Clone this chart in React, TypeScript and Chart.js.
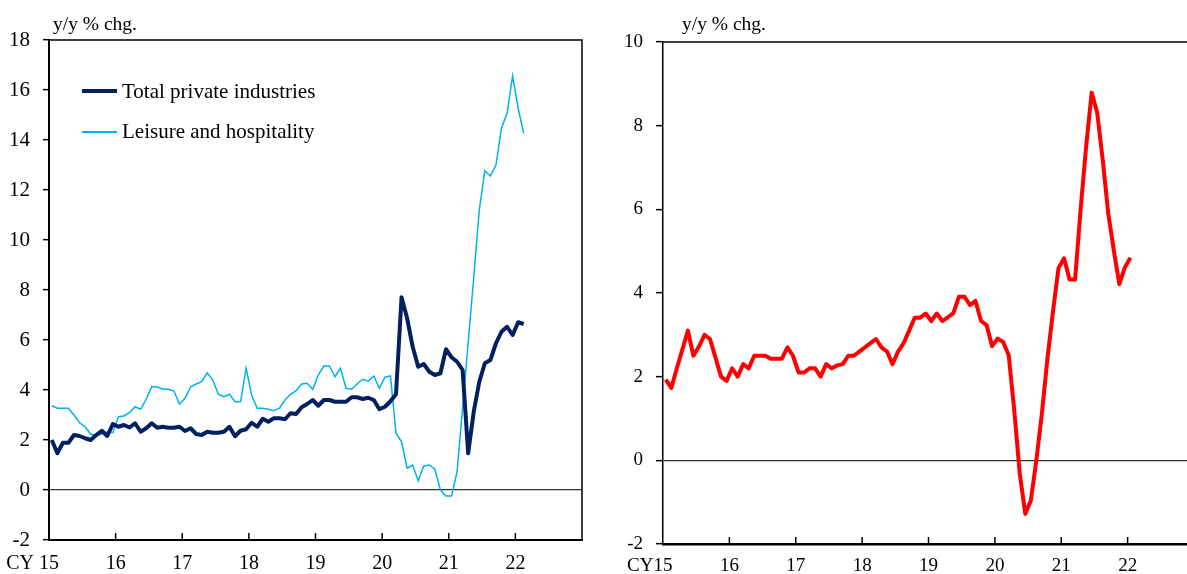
import { useEffect, useRef } from 'react';
import { Chart, registerables, ChartConfiguration, Plugin } from 'chart.js';

Chart.register(...registerables);

const FONT = '"Liberation Serif", "Times New Roman", serif';

// year tick labels (one tick per January, 12 months apart)
const yearLabels = ['15', '16', '17', '18', '19', '20', '21', '22'];

// left panel, monthly from Jan 2015, y/y % chg.
const totalPrivate = [
  2.0, 1.47, 1.89, 1.89, 2.2, 2.16, 2.07, 2.0, 2.2, 2.37, 2.16, 2.64,
  2.53, 2.6, 2.5, 2.67, 2.33, 2.47, 2.67, 2.49, 2.53, 2.49, 2.49, 2.53,
  2.36, 2.47, 2.24, 2.2, 2.33, 2.29, 2.29, 2.33, 2.53, 2.15, 2.37, 2.43,
  2.69, 2.53, 2.85, 2.73, 2.87, 2.87, 2.83, 3.07, 3.04, 3.31, 3.44, 3.6,
  3.37, 3.6, 3.6, 3.53, 3.53, 3.53, 3.71, 3.71, 3.64, 3.69, 3.6, 3.23,
  3.33, 3.55, 3.83, 7.71, 6.87, 5.73, 4.93, 5.04, 4.73, 4.6, 4.67, 5.63,
  5.31, 5.13, 4.8, 1.47, 3.13, 4.33, 5.07, 5.2, 5.87, 6.33, 6.53, 6.2,
  6.71, 6.64,
];

const leisureHospitality = [
  3.37, 3.27, 3.27, 3.27, 3.0, 2.69, 2.53, 2.24, 2.16, 2.24, 2.33, 2.29,
  2.93, 2.96, 3.09, 3.33, 3.23, 3.63, 4.13, 4.13, 4.03, 4.03, 3.96, 3.44,
  3.67, 4.13, 4.24, 4.33, 4.69, 4.4, 3.83, 3.73, 3.83, 3.53, 3.53, 4.87,
  3.8, 3.27, 3.27, 3.23, 3.17, 3.27, 3.6, 3.83, 3.97, 4.24, 4.27, 4.03,
  4.6, 4.96, 4.96, 4.53, 4.87, 4.07, 4.03, 4.24, 4.43, 4.35, 4.56, 4.07,
  4.51, 4.56, 2.27, 1.93, 0.87, 1.0, 0.37, 0.96, 1.0, 0.83, 0.0, -0.24,
  -0.24, 0.73, 3.3, 5.9, 8.5, 11.2, 12.77, 12.56, 13.0, 14.47, 15.07, 16.56,
  15.27, 14.27,
];

// right panel, monthly from Jan 2015
const rightSeries = [
  1.93, 1.73, 2.2, 2.65, 3.1, 2.5, 2.72, 3.0, 2.9, 2.45, 2.0, 1.9,
  2.2, 2.0, 2.3, 2.2, 2.5, 2.5, 2.5, 2.43, 2.43, 2.43, 2.7, 2.5,
  2.1, 2.1, 2.2, 2.2, 2.0, 2.3, 2.2, 2.27, 2.3, 2.5, 2.5, 2.6,
  2.7, 2.8, 2.9, 2.7, 2.6, 2.3, 2.6, 2.8, 3.1, 3.41, 3.41, 3.51,
  3.33, 3.51, 3.33, 3.42, 3.52, 3.91, 3.91, 3.71, 3.81, 3.33, 3.23, 2.73,
  2.91, 2.83, 2.51, 1.2, -0.32, -1.28, -0.96, 0.0, 1.12, 2.43, 3.55, 4.59,
  4.83, 4.32, 4.32, 6.0, 7.5, 8.79, 8.31, 7.18, 5.9, 5.02, 4.21, 4.61,
  4.84,
];

// monthly points sit in the middle of their month slot
const toPoints = (values: number[]) => values.map((v, i) => ({ x: i + 0.5, y: v }));

type FrameOpts = { cyGap: number; labelPad: number; frameWidth: number; xFont: number };

// top/right frame, inward x ticks and the "CY" prefix of the first year label
function framePlugin(o: FrameOpts): Plugin<'line'> {
  return {
    id: 'frame',
    afterDraw(chart) {
      const { ctx, chartArea: a } = chart;
      const xs = chart.scales.x;
      ctx.save();
      ctx.strokeStyle = '#000';
      ctx.lineWidth = o.frameWidth;
      ctx.beginPath();
      ctx.moveTo(a.left, a.top);
      ctx.lineTo(a.right, a.top);
      ctx.lineTo(a.right, a.bottom);
      ctx.stroke();

      ctx.lineWidth = 1.5;
      xs.ticks.forEach((t) => {
        if (t.value <= xs.min || t.value >= xs.max) return;
        const px = xs.getPixelForValue(t.value);
        ctx.beginPath();
        ctx.moveTo(px, a.bottom);
        ctx.lineTo(px, a.bottom - 7);
        ctx.stroke();
      });

      ctx.font = `${o.xFont}px ${FONT}`;
      ctx.fillStyle = '#000';
      ctx.textAlign = 'right';
      ctx.textBaseline = 'middle';
      const px0 = xs.getPixelForValue(xs.min);
      const w = ctx.measureText(yearLabels[0]).width;
      ctx.fillText('CY', px0 - w / 2 - o.cyGap, a.bottom + o.labelPad + (o.xFont * 1.2) / 2);
      ctx.restore();
    },
  };
}

type PanelProps = {
  datasets: any[];
  yMin: number;
  yMax: number;
  yWidth: number;
  xHeight: number;
  top: number;
  right: number;
  tickLen: number;
  labelPad: number;
  cyGap: number;
  yBorder: number;
  xBorder: number;
  yFont: number;
  xFont: number;
};

function Panel(p: PanelProps) {
  const canvasRef = useRef<HTMLCanvasElement>(null);
  const chartRef = useRef<Chart | null>(null);

  useEffect(() => {
    if (!canvasRef.current) return;
    if (chartRef.current) chartRef.current.destroy();

    const config: ChartConfiguration<'line'> = {
      type: 'line',
      data: { datasets: p.datasets },
      options: {
        responsive: true,
        maintainAspectRatio: false,
        animation: false,
        layout: { padding: { top: p.top, right: p.right, left: 0, bottom: 0 } },
        plugins: { legend: { display: false }, tooltip: { enabled: false } },
        elements: { point: { radius: 0 }, line: { tension: 0 } },
        scales: {
          x: {
            type: 'linear',
            min: 0,
            max: 96,
            afterFit: (s: any) => {
              s.height = p.xHeight;
            },
            ticks: {
              stepSize: 12,
              autoSkip: false,
              maxRotation: 0,
              padding: p.labelPad,
              color: '#000',
              font: { family: FONT, size: p.xFont },
              callback: (v: any) => yearLabels[Math.round(Number(v) / 12)] ?? '',
            },
            grid: { display: false, drawTicks: false },
            border: { display: true, color: '#000', width: p.xBorder },
          },
          y: {
            min: p.yMin,
            max: p.yMax,
            afterFit: (s: any) => {
              s.width = p.yWidth;
            },
            ticks: { stepSize: 2, padding: 13, color: '#000', font: { family: FONT, size: p.yFont } },
            grid: {
              drawOnChartArea: true,
              drawTicks: true,
              tickLength: p.tickLen,
              tickColor: '#000',
              tickWidth: 1.5,
              lineWidth: 1.3,
              color: (c: any) => (c.tick && c.tick.value === 0 ? '#333' : 'rgba(0,0,0,0)'),
            },
            border: { display: true, color: '#000', width: p.yBorder },
          },
        },
      },
      plugins: [framePlugin({ cyGap: p.cyGap, labelPad: p.labelPad, frameWidth: 1.5, xFont: p.xFont })],
    };

    chartRef.current = new Chart(canvasRef.current, config);
    return () => {
      if (chartRef.current) {
        chartRef.current.destroy();
        chartRef.current = null;
      }
    };
  }, []);

  return <canvas ref={canvasRef}></canvas>;
}

const titleStyle: React.CSSProperties = {
  position: 'absolute',
  fontSize: 19.5,
  lineHeight: '19.5px',
  whiteSpace: 'nowrap',
  color: '#000',
};

const legendText: React.CSSProperties = {
  position: 'absolute',
  left: 122,
  fontSize: 21,
  lineHeight: '21px',
  whiteSpace: 'nowrap',
  color: '#000',
};

export default function App() {
  const leftDatasets = [
    {
      label: 'Total private industries',
      data: toPoints(totalPrivate),
      borderColor: '#002060',
      borderWidth: 4,
      borderJoinStyle: 'round',
    },
    {
      label: 'Leisure and hospitality',
      data: toPoints(leisureHospitality),
      borderColor: '#00B0F0',
      borderWidth: 1.5,
    },
  ];
  const rightDatasets = [
    {
      label: 'y/y % chg.',
      data: toPoints(rightSeries),
      borderColor: '#FF0000',
      borderWidth: 4,
      borderJoinStyle: 'round',
    },
  ];

  return (
    <div
      style={{
        position: 'fixed',
        left: 0,
        top: 0,
        width: 1187,
        height: 574,
        overflow: 'hidden',
        background: '#fff',
        fontFamily: FONT,
      }}
    >
      <div style={{ position: 'absolute', left: 0, top: 0, width: 595, height: 574 }}>
        <Panel
          datasets={leftDatasets}
          yMin={-2}
          yMax={18}
          yWidth={49}
          xHeight={34}
          top={40}
          right={13}
          tickLen={6}
          labelPad={12}
          cyGap={5}
          yBorder={2}
          xBorder={2}
          yFont={21}
          xFont={20}
        />
      </div>
      <div style={{ position: 'absolute', left: 595, top: 0, width: 610, height: 574 }}>
        <Panel
          datasets={rightDatasets}
          yMin={-2}
          yMax={10}
          yWidth={68}
          xHeight={30}
          top={42}
          right={11}
          tickLen={7}
          labelPad={11}
          cyGap={0}
          yBorder={1.5}
          xBorder={2.5}
          yFont={19}
          xFont={19}
        />
      </div>

      <div style={{ ...titleStyle, left: 53, top: 14 }}>y/y % chg.</div>
      <div style={{ ...titleStyle, left: 682, top: 14 }}>y/y % chg.</div>

      <div style={{ position: 'absolute', left: 82, top: 89, width: 35, height: 4, background: '#002060' }} />
      <div style={{ ...legendText, top: 81 }}>Total private industries</div>
      <div style={{ position: 'absolute', left: 82, top: 131, width: 35, height: 1.5, background: '#00B0F0' }} />
      <div style={{ ...legendText, top: 120.5 }}>Leisure and hospitality</div>
    </div>
  );
}
